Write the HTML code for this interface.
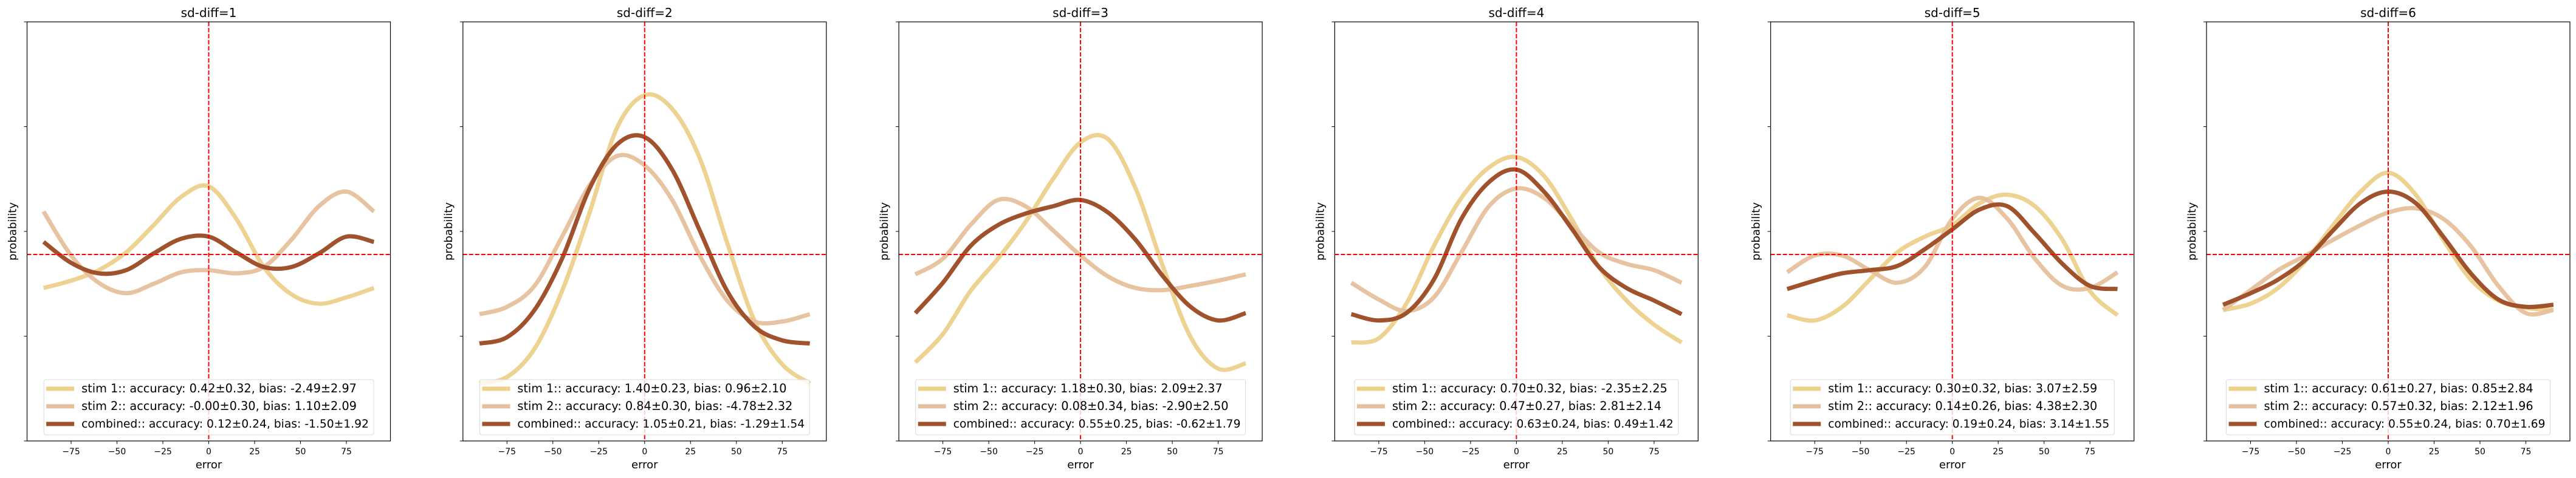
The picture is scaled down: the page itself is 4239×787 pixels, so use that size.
<!DOCTYPE html>
<html><head><meta charset="utf-8">
<style>
html,body{margin:0;padding:0;background:#fff;}
svg{display:block;font-family:"DejaVu Sans","Liberation Sans",sans-serif;}
</style></head>
<body>
<svg id="fig" width="4239" height="787" viewBox="0 0 4239 787" xmlns="http://www.w3.org/2000/svg"></svg>
<script>
// ---- data ----
const panelTitles = ["sd-diff=1","sd-diff=2","sd-diff=3","sd-diff=4","sd-diff=5","sd-diff=6"];
const xs = [-90,-75,-60,-45,-30,-15,0,15,30,45,60,75,90];
const xTicks = [-75,-50,-25,0,25,50,75];
const yTicks = [0,1,2,3,4];
const hlineValue = 1.78;
const seriesNames = ["stim 1","stim 2","combined"];
const stim1 = [
 [1.46,1.53,1.63,1.80,2.06,2.33,2.43,2.12,1.66,1.40,1.31,1.37,1.46],
 [0.55,0.61,0.88,1.43,2.18,2.99,3.30,3.17,2.70,1.89,1.14,0.73,0.55],
 [0.75,1.02,1.43,1.74,2.09,2.50,2.85,2.88,2.41,1.66,0.99,0.69,0.74],
 [0.94,0.98,1.31,1.86,2.32,2.61,2.71,2.53,2.12,1.66,1.34,1.11,0.94],
 [1.20,1.15,1.28,1.54,1.80,1.95,2.06,2.27,2.35,2.24,1.92,1.43,1.20],
 [1.25,1.31,1.46,1.72,2.06,2.38,2.56,2.35,1.92,1.54,1.34,1.27,1.25]
];
const stim2 = [
 [2.19,1.77,1.51,1.41,1.50,1.61,1.63,1.60,1.66,1.92,2.24,2.38,2.19],
 [1.21,1.28,1.48,1.95,2.44,2.72,2.63,2.30,1.77,1.34,1.14,1.14,1.21],
 [1.59,1.74,2.06,2.30,2.24,2.01,1.77,1.57,1.46,1.44,1.48,1.53,1.59],
 [1.51,1.35,1.24,1.37,1.80,2.24,2.41,2.32,2.06,1.80,1.69,1.63,1.51],
 [1.61,1.77,1.77,1.63,1.51,1.66,2.12,2.32,2.12,1.74,1.48,1.46,1.61],
 [1.25,1.44,1.63,1.77,1.92,2.06,2.18,2.22,2.12,1.86,1.48,1.22,1.25]
];
const combined = [
 [1.90,1.70,1.60,1.63,1.79,1.93,1.95,1.80,1.66,1.66,1.79,1.95,1.90],
 [0.93,0.99,1.25,1.74,2.41,2.83,2.90,2.59,2.01,1.43,1.09,0.96,0.93],
 [1.22,1.51,1.86,2.06,2.17,2.24,2.30,2.18,1.92,1.57,1.28,1.15,1.22],
 [1.21,1.15,1.22,1.54,2.12,2.47,2.59,2.38,2.03,1.66,1.46,1.34,1.21],
 [1.45,1.53,1.60,1.63,1.67,1.83,2.02,2.21,2.24,1.98,1.69,1.48,1.45],
 [1.30,1.41,1.54,1.73,2.01,2.27,2.38,2.27,1.95,1.60,1.35,1.28,1.30]
];
const legendLabels = [
 ["stim 1:: accuracy: 0.42±0.32, bias: -2.49±2.97","stim 2:: accuracy: -0.00±0.30, bias: 1.10±2.09","combined:: accuracy: 0.12±0.24, bias: -1.50±1.92"],
 ["stim 1:: accuracy: 1.40±0.23, bias: 0.96±2.10","stim 2:: accuracy: 0.84±0.30, bias: -4.78±2.32","combined:: accuracy: 1.05±0.21, bias: -1.29±1.54"],
 ["stim 1:: accuracy: 1.18±0.30, bias: 2.09±2.37","stim 2:: accuracy: 0.08±0.34, bias: -2.90±2.50","combined:: accuracy: 0.55±0.25, bias: -0.62±1.79"],
 ["stim 1:: accuracy: 0.70±0.32, bias: -2.35±2.25","stim 2:: accuracy: 0.47±0.27, bias: 2.81±2.14","combined:: accuracy: 0.63±0.24, bias: 0.49±1.42"],
 ["stim 1:: accuracy: 0.30±0.32, bias: 3.07±2.59","stim 2:: accuracy: 0.14±0.26, bias: 4.38±2.30","combined:: accuracy: 0.19±0.24, bias: 3.14±1.55"],
 ["stim 1:: accuracy: 0.61±0.27, bias: 0.85±2.84","stim 2:: accuracy: 0.57±0.32, bias: 2.12±1.96","combined:: accuracy: 0.55±0.24, bias: 0.70±1.69"]
];
// ---- layout ----
const NS = "http://www.w3.org/2000/svg";
const fig = document.getElementById('fig');
const colors = ["#ecd08c","#e6c09c","#a0522d"];
const P0 = 44.5, PSTEP = 717.3, PW = 598, TOP = 36, BOT = 726;
const XMIN = -99, XMAX = 99, YMIN = 0, YMAX = 4;
const CHARW = 9.85; // target px per legend character
function mk(tag, attrs, parent){const e=document.createElementNS(NS,tag);for(const k in attrs)e.setAttribute(k,attrs[k]);(parent||fig).appendChild(e);return e;}
function smoothPath(pts){
  let d = `M${pts[0][0]},${pts[0][1]}`;
  for(let i=0;i<pts.length-1;i++){
    const p0=pts[Math.max(0,i-1)],p1=pts[i],p2=pts[i+1],p3=pts[Math.min(pts.length-1,i+2)];
    const c1=[p1[0]+(p2[0]-p0[0])/6,p1[1]+(p2[1]-p0[1])/6];
    const c2=[p2[0]-(p3[0]-p1[0])/6,p2[1]-(p3[1]-p1[1])/6];
    d+=` C${c1[0]},${c1[1]} ${c2[0]},${c2[1]} ${p2[0]},${p2[1]}`;
  }
  return d;
}
const allSeries=[stim1,stim2,combined];
for(let p=0;p<6;p++){
  const L = P0 + p*PSTEP, R = L + PW;
  const sx = v => L + (v - XMIN)/(XMAX-XMIN)*PW;
  const sy = v => BOT - (v - YMIN)/(YMAX-YMIN)*(BOT-TOP);
  const g = mk('g',{});
  
  
  const t = mk('text',{x:(L+R)/2,y:28,'font-size':20,'text-anchor':'middle',fill:'#000'},g);
  t.textContent = panelTitles[p];
  
  
  for(let s=0;s<3;s++){
    const pts = xs.map((x,i)=>[sx(x), sy(allSeries[s][p][i])]);
    const path = mk('path',{d:smoothPath(pts),fill:'none',stroke:colors[s],'stroke-width':7,'stroke-linecap':'butt','stroke-opacity':s<2?0.95:1},g);
    
    
  }
  const vl = mk('line',{x1:sx(0),x2:sx(0),y1:TOP,y2:BOT,stroke:'#ff0000','stroke-width':2,'stroke-dasharray':'7,3'},g);
  
  
  const hl = mk('line',{x1:L,x2:R,y1:sy(hlineValue),y2:sy(hlineValue),stroke:'#ff0000','stroke-width':2,'stroke-dasharray':'7,3'},g);
  
  
  const fr = mk('rect',{x:L,y:TOP,width:PW,height:BOT-TOP,fill:'none',stroke:'#000','stroke-width':1.2},g);
  
  
  xTicks.forEach(v=>{
    mk('line',{x1:sx(v),x2:sx(v),y1:BOT,y2:BOT+5,stroke:'#000','stroke-width':1},g);
    const tl = mk('text',{x:sx(v),y:748,'font-size':14,'text-anchor':'middle',fill:'#000'},g);
    tl.textContent = v<0 ? '\u2212'+Math.abs(v) : String(v);
    
    
  });
  yTicks.forEach(v=>{
    mk('line',{x1:L-5,x2:L,y1:sy(v),y2:sy(v),stroke:'#000','stroke-width':1},g);
  });
  const xl = mk('text',{x:(L+R)/2,y:771,'font-size':18,'text-anchor':'middle',fill:'#000'},g);
  xl.textContent='error';
  
  
  const yl = mk('text',{x:0,y:0,'font-size':18,'text-anchor':'middle',fill:'#000',transform:`translate(${L-18},${(TOP+BOT)/2}) rotate(-90)`},g);
  yl.textContent='probability';
  
  
  const lg = mk('g',{},g);
  
  
  const box = mk('rect',{x:0,y:625,width:10,height:91,rx:3,fill:'#fff','fill-opacity':0.8,stroke:'#d9d9d9','stroke-width':1},lg);
  const texts=[];
  for(let s=0;s<3;s++){
    const yy = 640 + s*29;
    const h = mk('line',{x1:0,x2:46,y1:yy,y2:yy,stroke:colors[s],'stroke-width':7},lg);
    
    
    const tx = mk('text',{x:58,y:yy+6,'font-size':17,fill:'#000'},lg);
    tx.textContent = legendLabels[p][s];
    
    
    texts.push([h,tx]);
  }
  // scale font to match target width per character
  texts.forEach(([h,tx])=>{
    const w = tx.getComputedTextLength();
    const target = tx.textContent.length*CHARW;
    if(w>0) tx.setAttribute('font-size', (17*target/w).toFixed(2));
  });
  let maxW = 0; texts.forEach(([h,tx])=>{maxW=Math.max(maxW,tx.getComputedTextLength());});
  const bw = 58 + maxW + 12;
  const bx = (L+R)/2 - bw/2;
  box.setAttribute('x',bx); box.setAttribute('width',bw);
  texts.forEach(([h,tx])=>{
    h.setAttribute('x1',bx+4); h.setAttribute('x2',bx+50);
    tx.setAttribute('x',bx+62);
  });
}
</script>
</body></html>
